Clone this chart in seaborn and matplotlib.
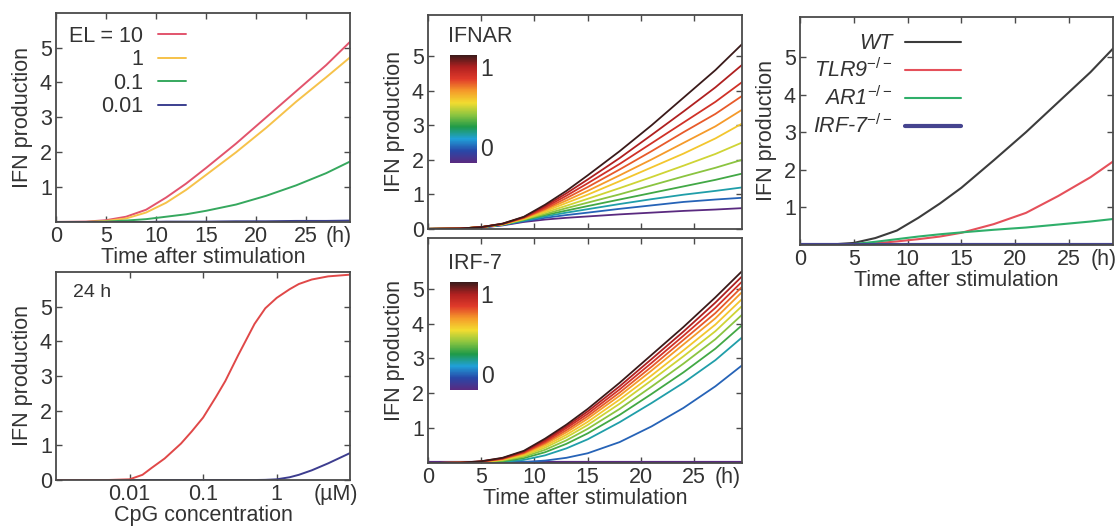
import numpy as np
import pandas as pd
import matplotlib
matplotlib.use('Agg')
import matplotlib.pyplot as plt
import seaborn as sns
from matplotlib.colors import LinearSegmentedColormap, Normalize
from matplotlib.cm import ScalarMappable
from matplotlib.ticker import NullLocator

# ---------------------------------------------------------------
# data
time = [0, 3, 5, 7, 9, 11, 13, 15, 18, 21, 24, 27, 29.5]

# panel A : different EL values
el_labels = ['EL = 10', '1', '0.1', '0.01']
el_10 = [0, 0.01, 0.05, 0.15, 0.35, 0.70, 1.10, 1.55, 2.25, 3.00, 3.75, 4.50, 5.20]
el_1 = [0, 0.00, 0.03, 0.10, 0.27, 0.55, 0.92, 1.35, 2.00, 2.70, 3.45, 4.15, 4.75]
el_01 = [0, 0.00, 0.01, 0.04, 0.08, 0.15, 0.22, 0.32, 0.50, 0.75, 1.05, 1.40, 1.75]
el_001 = [0, 0.00, 0.00, 0.00, 0.00, 0.01, 0.01, 0.01, 0.02, 0.02, 0.03, 0.03, 0.04]
el_colors = ['#e2546c', '#f6c24a', '#36a85e', '#3b3f8f']

# panel B : dose response at 24 h
cpg = [0.001, 0.005, 0.01, 0.015, 0.02, 0.03, 0.05, 0.07, 0.1, 0.15, 0.2, 0.3,
       0.5, 0.7, 1, 1.5, 2, 3, 5, 10]
cpg_red = [0, 0, 0.02, 0.15, 0.35, 0.62, 1.05, 1.40, 1.80, 2.40, 2.85, 3.60,
           4.50, 4.95, 5.25, 5.50, 5.65, 5.78, 5.87, 5.92]
cpg_blue = [0, 0, 0, 0, 0, 0, 0, 0, 0, 0, 0, 0,
            0, 0.005, 0.02, 0.08, 0.15, 0.28, 0.48, 0.78]

# panel IFNAR : level of IFNAR (top = 1 ... bottom = 0)
ifnar_levels = [1.15, 1.0, 0.9, 0.8, 0.7, 0.6, 0.5, 0.4, 0.3, 0.15, 0.0, -0.2]
ifnar_curves = [
    [0, 0.01, 0.05, 0.15, 0.35, 0.70, 1.10, 1.55, 2.25, 3.00, 3.80, 4.60, 5.35],
    [0, 0.01, 0.05, 0.15, 0.34, 0.66, 1.03, 1.43, 2.05, 2.72, 3.40, 4.10, 4.75],
    [0, 0.01, 0.05, 0.14, 0.33, 0.62, 0.96, 1.32, 1.88, 2.48, 3.08, 3.68, 4.25],
    [0, 0.01, 0.05, 0.14, 0.32, 0.58, 0.89, 1.21, 1.72, 2.25, 2.80, 3.33, 3.85],
    [0, 0.01, 0.05, 0.14, 0.31, 0.55, 0.82, 1.10, 1.55, 2.01, 2.49, 2.97, 3.45],
    [0, 0.01, 0.05, 0.13, 0.30, 0.51, 0.75, 0.99, 1.38, 1.78, 2.18, 2.62, 3.05],
    [0, 0.01, 0.05, 0.13, 0.28, 0.47, 0.67, 0.87, 1.18, 1.50, 1.83, 2.17, 2.50],
    [0, 0.01, 0.05, 0.13, 0.27, 0.43, 0.60, 0.76, 1.00, 1.26, 1.52, 1.77, 2.00],
    [0, 0.01, 0.05, 0.12, 0.26, 0.40, 0.53, 0.66, 0.85, 1.04, 1.23, 1.42, 1.60],
    [0, 0.01, 0.04, 0.12, 0.24, 0.36, 0.47, 0.57, 0.72, 0.86, 0.99, 1.10, 1.20],
    [0, 0.01, 0.04, 0.11, 0.22, 0.32, 0.40, 0.47, 0.58, 0.68, 0.78, 0.85, 0.90],
    [0, 0.01, 0.04, 0.10, 0.20, 0.27, 0.32, 0.36, 0.42, 0.47, 0.52, 0.56, 0.60],
]

# panel IRF-7 : level of IRF-7
irf_levels = [1.15, 1.0, 0.9, 0.8, 0.7, 0.6, 0.5, 0.4, 0.3, 0.15, 0.0, -0.2]
irf_curves = [
    [0, 0.01, 0.05, 0.15, 0.35, 0.70, 1.10, 1.55, 2.30, 3.10, 3.90, 4.75, 5.50],
    [0, 0.01, 0.05, 0.14, 0.33, 0.66, 1.05, 1.48, 2.20, 2.98, 3.77, 4.60, 5.35],
    [0, 0.01, 0.04, 0.13, 0.31, 0.62, 1.00, 1.41, 2.11, 2.87, 3.65, 4.45, 5.20],
    [0, 0.01, 0.04, 0.12, 0.29, 0.58, 0.94, 1.34, 2.02, 2.76, 3.53, 4.30, 5.05],
    [0, 0.01, 0.04, 0.11, 0.27, 0.54, 0.88, 1.27, 1.93, 2.65, 3.40, 4.15, 4.90],
    [0, 0.01, 0.03, 0.10, 0.24, 0.49, 0.81, 1.18, 1.82, 2.51, 3.23, 3.97, 4.70],
    [0, 0.01, 0.03, 0.09, 0.21, 0.44, 0.74, 1.09, 1.70, 2.37, 3.06, 3.78, 4.50],
    [0, 0.00, 0.02, 0.07, 0.18, 0.38, 0.65, 0.98, 1.55, 2.19, 2.85, 3.55, 4.25],
    [0, 0.00, 0.02, 0.05, 0.14, 0.31, 0.55, 0.85, 1.38, 1.98, 2.60, 3.28, 3.95],
    [0, 0.00, 0.01, 0.03, 0.09, 0.22, 0.42, 0.68, 1.17, 1.72, 2.30, 2.95, 3.60],
    [0, 0.00, 0.00, 0.01, 0.03, 0.07, 0.15, 0.28, 0.60, 1.05, 1.58, 2.20, 2.80],
    [0, 0.00, 0.00, 0.00, 0.00, 0.00, 0.00, 0.00, 0.00, 0.00, 0.00, 0.00, 0.00],
]

# right panel : knock-outs
ko_labels = ['WT', r'TLR9$^{-/-}$', r'AR1$^{-/-}$', r'IRF-7$^{-/-}$']
ko_wt = [0, 0.01, 0.05, 0.18, 0.38, 0.72, 1.10, 1.52, 2.25, 3.00, 3.80, 4.60, 5.35]
ko_tlr9 = [0, 0.00, 0.01, 0.04, 0.09, 0.15, 0.22, 0.32, 0.55, 0.85, 1.30, 1.80, 2.30]
ko_ar1 = [0, 0.00, 0.02, 0.08, 0.15, 0.22, 0.28, 0.33, 0.40, 0.46, 0.54, 0.62, 0.70]
ko_irf7 = [0, 0, 0, 0, 0, 0, 0, 0, 0, 0, 0, 0, 0]
ko_colors = ['#3c3c3c', '#e5505a', '#2faf6a', '#45448f']
ko_widths = [1.5, 1.5, 1.5, 3.0]

# ---------------------------------------------------------------
sns.set_theme(style='ticks')
plt.rcParams['font.family'] = ['Liberation Sans', 'DejaVu Sans']
plt.rcParams['mathtext.fontset'] = 'custom'
plt.rcParams['mathtext.rm'] = 'Liberation Sans'
plt.rcParams['mathtext.it'] = 'Liberation Sans:italic'
FS = 15.5
txt = '#333333'
frame = '#4a4a4a'

rainbow = LinearSegmentedColormap.from_list(
    'ifn_rainbow', ['#5a2a80', '#2848a8', '#20a0d8', '#1f9a48', '#8cc540',
                    '#f2dc30', '#f59a2a', '#e03a2a', '#b02020', '#3a1a1a'])
norm = Normalize(vmin=-0.2, vmax=1.15)

fig = plt.figure(figsize=(11.19, 5.31), dpi=100)
axA = fig.add_axes([0.050, 0.582, 0.263, 0.394])
axB = fig.add_axes([0.050, 0.096, 0.263, 0.392])
axI = fig.add_axes([0.3825, 0.569, 0.2806, 0.403])
axR = fig.add_axes([0.3825, 0.128, 0.2806, 0.4237])
axK = fig.add_axes([0.715, 0.539, 0.2797, 0.429])


def style(ax, yticks, ymax, xlab=True):
    for s in ax.spines.values():
        s.set_color(frame)
        s.set_linewidth(1.3)
    ax.tick_params(direction='in', top=True, right=True, length=4, width=1,
                   color=frame, labelsize=FS, labelcolor=txt, pad=3)
    ax.set_yticks(yticks)
    ax.set_ylim(0, ymax)
    ax.set_ylabel('IFN production', fontsize=FS, color=txt, labelpad=5)


def time_axis(ax, xmax, labels=True):
    ax.set_xlim(0, xmax)
    ax.set_xticks([0, 5, 10, 15, 20, 25])
    if labels:
        ax.annotate('(h)', xy=(28.2, 0), xycoords=('data', 'axes fraction'),
                    xytext=(0, -3), textcoords='offset points',
                    ha='center', va='top', fontsize=FS, color=txt)
        ax.set_xlabel('Time after stimulation', fontsize=FS, color=txt, labelpad=0)
    else:
        ax.set_xticklabels([])
        ax.set_xlabel('')


# ---- panel A
dfA = pd.DataFrame({'t': time * 4,
                    'ifn': el_10 + el_1 + el_01 + el_001,
                    'EL': [l for l in el_labels for _ in time]})
sns.lineplot(data=dfA, x='t', y='ifn', hue='EL', hue_order=el_labels,
             palette=dict(zip(el_labels, el_colors)), estimator=None, sort=False,
             linewidth=1.4, ax=axA)
style(axA, [1, 2, 3, 4, 5], 6.0)
time_axis(axA, 29.4)
h, l = axA.get_legend_handles_labels()
axA.legend(h, l, loc='upper left', bbox_to_anchor=(0.0, 1.0), frameon=False,
           markerfirst=False, fontsize=FS, handlelength=1.3, handletextpad=0.7,
           labelspacing=0.12, borderaxespad=0.2, labelcolor=txt)

# ---- panel B
dfB = pd.DataFrame({'c': cpg * 2, 'ifn': cpg_blue + cpg_red,
                    'g': ['blue'] * len(cpg) + ['red'] * len(cpg)})
sns.lineplot(data=dfB, x='c', y='ifn', hue='g',
             palette={'blue': '#3d3d8f', 'red': '#e04848'}, estimator=None,
             sort=False, linewidth=1.4, legend=False, ax=axB)
axB.set_xscale('log')
axB.set_xlim(0.001, 10)
axB.set_xticks([0.01, 0.1, 1])
axB.set_xticklabels(['0.01', '0.1', '1'])
axB.xaxis.set_minor_locator(NullLocator())
style(axB, [0, 1, 2, 3, 4, 5], 6.0)
axB.set_xlabel('CpG concentration', fontsize=FS, color=txt, labelpad=0)
axB.annotate('(µM)', xy=(6.3, 0), xycoords=('data', 'axes fraction'),
             xytext=(0, -3), textcoords='offset points',
             ha='center', va='top', fontsize=FS, color=txt)
axB.text(0.058, 0.90, '24 h', transform=axB.transAxes, fontsize=FS - 1.5,
         color=txt, va='center')


# ---- panels IFNAR and IRF-7
def rainbow_panel(ax, levels, curves, title, ymax, cb_rect, ticklabels, flat_lw):
    df = pd.DataFrame({'t': time * len(curves),
                       'ifn': [v for c in curves for v in c],
                       'level': [lv for lv in levels for _ in time]})
    pal = {lv: rainbow(norm(lv)) for lv in levels}
    sns.lineplot(data=df, x='t', y='ifn', hue='level', hue_order=levels[::-1],
                 palette=pal, estimator=None, sort=False, linewidth=1.3,
                 legend=False, ax=ax)
    if flat_lw:
        ax.lines[0].set_linewidth(flat_lw)
    style(ax, ticklabels, ymax)
    ax.text(0.064, cb_rect[1] + cb_rect[3] + 0.085, title, transform=ax.transAxes,
            fontsize=FS, color=txt, va='center')
    cax = ax.inset_axes(cb_rect)
    cb = fig.colorbar(ScalarMappable(norm=norm, cmap=rainbow), cax=cax, ticks=[0, 1])
    cb.outline.set_visible(False)
    cax.tick_params(length=0, labelsize=FS + 1, labelcolor=txt, pad=2)


rainbow_panel(axI, ifnar_levels, ifnar_curves, 'IFNAR', 6.2,
              [0.07, 0.308, 0.086, 0.505], [0, 1, 2, 3, 4, 5], None)
time_axis(axI, 29.5, labels=False)
rainbow_panel(axR, irf_levels, irf_curves, 'IRF-7', 6.45,
              [0.07, 0.324, 0.089, 0.48], [1, 2, 3, 4, 5], 3.0)
time_axis(axR, 29.5)

# ---- right panel
for lab, vals, col, lw in zip(ko_labels, [ko_wt, ko_tlr9, ko_ar1, ko_irf7],
                              ko_colors, ko_widths):
    sns.lineplot(x=time, y=vals, color=col, linewidth=lw, label=lab,
                 estimator=None, sort=False, ax=axK)
style(axK, [1, 2, 3, 4, 5], 6.07)
time_axis(axK, 29.1)
h, l = axK.get_legend_handles_labels()
axK.legend(h, l, loc='upper left', bbox_to_anchor=(0.0, 0.985), frameon=False,
           markerfirst=False, fontsize=FS, handlelength=2.6, handletextpad=0.6,
           labelspacing=0.2, borderaxespad=0.2, labelcolor=txt,
           prop={'style': 'italic', 'size': FS})

fig.savefig('out.png', dpi=100)
